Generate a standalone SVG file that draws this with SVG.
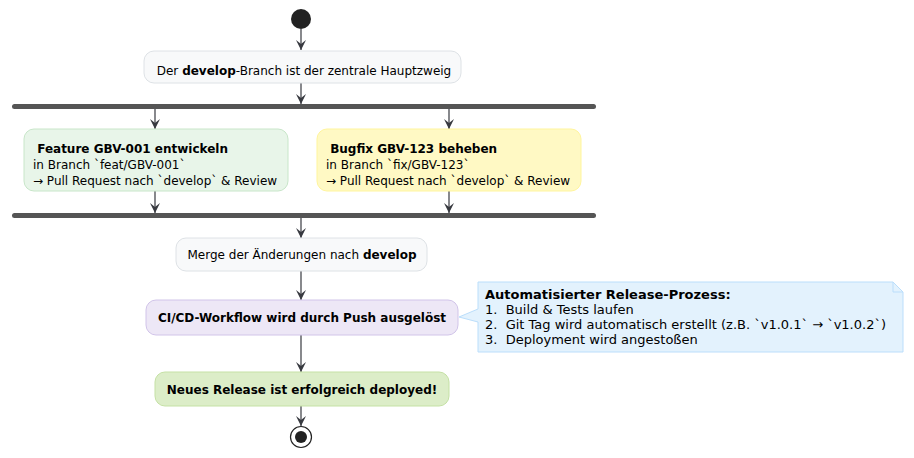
<svg xmlns="http://www.w3.org/2000/svg" width="914" height="458" viewBox="0 0 914 458">
<defs>
<marker id="arr" viewBox="0 0 10 10" refX="10" refY="5" markerWidth="10" markerHeight="10" markerUnits="userSpaceOnUse" orient="auto">
<path d="M0,0 L10,5 L0,10 L4,5 Z" fill="#383A40"/>
</marker>
<style>
text{font-family:"DejaVu Sans",Verdana,sans-serif;font-size:12px;fill:#000;white-space:pre}
.b{font-weight:bold}
.n{font-size:13px}
.edge{stroke:#383A40;stroke-width:1.2;fill:none;marker-end:url(#arr)}
.bar{fill:#555555}
</style>
</defs>
<rect width="914" height="458" fill="#FFFFFF"/>
<g id="connectors">
<line class="edge" x1="301" y1="29" x2="301" y2="50"/>
<line class="edge" x1="301" y1="83" x2="301" y2="104"/>
<line class="edge" x1="155" y1="108" x2="155" y2="129"/>
<line class="edge" x1="449" y1="108" x2="449" y2="129"/>
<line class="edge" x1="155" y1="191" x2="155" y2="213"/>
<line class="edge" x1="449" y1="191" x2="449" y2="213"/>
<line class="edge" x1="301" y1="217" x2="301" y2="238"/>
<line class="edge" x1="301" y1="271" x2="301" y2="300"/>
<line class="edge" x1="301" y1="335" x2="301" y2="372"/>
<line class="edge" x1="301" y1="406" x2="301" y2="426"/>
</g>
<g id="start"><circle cx="301" cy="19" r="10" fill="#222222"/></g>
<g id="n1">
<rect x="144" y="51" width="317" height="32" rx="10" fill="#F8F9FA" stroke="#DEE2E6"/>
<text x="304" y="75" text-anchor="middle">Der <tspan class="b">develop</tspan>-Branch ist der zentrale Hauptzweig</text>
</g>
<g id="fork"><rect class="bar" x="12" y="104" width="584" height="5" rx="2.5"/></g>
<g id="feature">
<rect x="24" y="129" width="264" height="62" rx="10" fill="#E8F5E9" stroke="#C8E6C9"/>
<text x="33" y="153" class="b"> Feature GBV-001 entwickeln</text>
<text x="33" y="169">in Branch `feat/GBV-001`</text>
<text x="33" y="185">→ Pull Request nach `develop` &amp; Review</text>
</g>
<g id="bugfix">
<rect x="317" y="129" width="264" height="62" rx="10" fill="#FFF9C4" stroke="#FFF59D"/>
<text x="326" y="153" class="b"> Bugfix GBV-123 beheben</text>
<text x="326" y="169">in Branch `fix/GBV-123`</text>
<text x="326" y="185">→ Pull Request nach `develop` &amp; Review</text>
</g>
<g id="join"><rect class="bar" x="12" y="213" width="584" height="5" rx="2.5"/></g>
<g id="merge">
<rect x="176" y="238" width="251" height="33" rx="10" fill="#F8F9FA" stroke="#DEE2E6"/>
<text x="302" y="259" text-anchor="middle">Merge der Änderungen nach <tspan class="b">develop</tspan></text>
</g>
<g id="cicd">
<rect x="146" y="300" width="312" height="35" rx="10" fill="#EDE7F6" stroke="#D1C4E9"/>
<text x="302" y="322" text-anchor="middle" class="b">CI/CD-Workflow wird durch Push ausgelöst</text>
</g>
<g id="note">
<path d="M478,282 L893,282 L903,292 L903,352 L478,352 L478,322 L459,317 L478,309 Z" fill="#E3F2FD" stroke="#BBDEFB"/>
<path d="M893,282 L893,292 L903,292" fill="none" stroke="#BBDEFB"/>
<text x="485" y="299" class="n b">Automatisierter Release-Prozess:</text>
<text x="485" y="314" class="n">1.  Build &amp; Tests laufen</text>
<text x="485" y="329" class="n">2.  Git Tag wird automatisch erstellt (z.B. `v1.0.1` → `v1.0.2`)</text>
<text x="485" y="344" class="n">3.  Deployment wird angestoßen</text>
</g>
<g id="release">
<rect x="155" y="372" width="294" height="34" rx="10" fill="#DCEDC8" stroke="#C5E1A5"/>
<text x="302" y="394" text-anchor="middle" class="b">Neues Release ist erfolgreich deployed!</text>
</g>
<g id="end">
<circle cx="301" cy="437" r="10.5" fill="none" stroke="#222222" stroke-width="1.2"/>
<circle cx="301" cy="437" r="6" fill="#222222"/>
</g>
</svg>
